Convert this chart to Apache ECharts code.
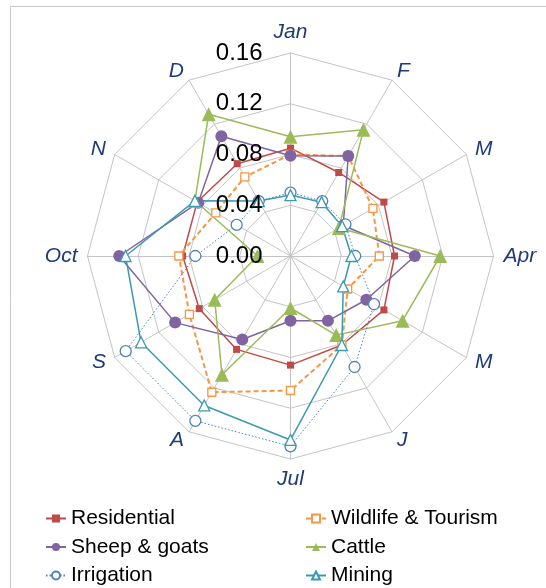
<!DOCTYPE html>
<html>
<head>
<meta charset="utf-8">
<script src="https://cdn.jsdelivr.net/npm/echarts@6/dist/echarts.min.js"></script>
<style>
  html, body { margin: 0; padding: 0; background: #fff; }
  #chart { width: 546px; height: 588px; }
</style>
</head>
<body>
<div id="chart"></div>
<script>
// Month spokes, listed clockwise from the top
const months = ['Jan', 'F', 'M', 'Apr', 'M', 'J', 'Jul', 'A', 'S', 'Oct', 'N', 'D'];
const tickValues = [0, 0.04, 0.08, 0.12, 0.16];

// Monthly share of water demand for each user group
const residential = [0.085, 0.076, 0.085, 0.082, 0.085, 0.081, 0.086, 0.085, 0.083, 0.085, 0.085, 0.084];
const wildlife    = [0.080, 0.091, 0.075, 0.070, 0.052, 0.081, 0.106, 0.124, 0.092, 0.088, 0.068, 0.072];
const sheepGoats  = [0.079, 0.091, 0.048, 0.098, 0.069, 0.059, 0.051, 0.076, 0.105, 0.135, 0.084, 0.109];
const cattle      = [0.094, 0.115, 0.044, 0.118, 0.102, 0.072, 0.041, 0.108, 0.069, 0.026, 0.087, 0.129];
const irrigation  = [0.050, 0.050, 0.050, 0.051, 0.076, 0.101, 0.150, 0.150, 0.150, 0.075, 0.049, 0.050];
const mining      = [0.048, 0.049, 0.047, 0.048, 0.048, 0.081, 0.145, 0.136, 0.136, 0.130, 0.087, 0.050];

const AXIS_MIN = tickValues[0];
const AXIS_MAX = tickValues[tickValues.length - 1];
const AXIS_STEP = tickValues[1] - tickValues[0];
const CENTER = [290.5, 256];
const RADIUS = 203;

// ECharts lays radar indicators out counter-clockwise, so keep the first
// month at the top and reverse the rest to read clockwise.
const order = [0].concat(months.map((_, i) => i).slice(1).reverse());
const reorder = arr => order.map(i => arr[i]);

const chart = echarts.init(document.getElementById('chart'), null, { renderer: 'canvas' });

const seriesDefs = [
  { name: 'Residential', data: residential, color: '#BE4B48', symbol: 'rect', size: 7, hollow: false, line: 'solid', width: 1.5 },
  { name: 'Wildlife & Tourism', data: wildlife, color: '#F79646', symbol: 'rect', size: 8, hollow: true, line: [5, 3], width: 2 },
  { name: 'Sheep & goats', data: sheepGoats, color: '#8064A2', symbol: 'circle', size: 12, hollow: false, line: 'solid', width: 1.5 },
  { name: 'Cattle', data: cattle, color: '#9BBB59', symbol: 'triangle', size: 14, hollow: false, line: 'solid', width: 1.5 },
  { name: 'Irrigation', data: irrigation, color: '#4F81BD', symbol: 'circle', size: 11, hollow: true, line: [1.5, 2], width: 1 },
  { name: 'Mining', data: mining, color: '#3B9AB2', symbol: 'triangle', size: 11, hollow: true, line: 'solid', width: 1.5 }
];

const styleOf = d => ({
  lineStyle: { color: d.color, width: d.width, type: d.line },
  itemStyle: {
    color: d.hollow ? '#fff' : d.color,
    borderColor: d.color,
    borderWidth: d.hollow ? 1.3 : 0
  }
});

// Line-type legend keys (line with marker) come from empty line series
// that share each group's name and style.
const legendKeys = seriesDefs.map(d => Object.assign({
  type: 'line',
  name: d.name,
  symbol: d.symbol,
  xAxisIndex: 0,
  yAxisIndex: 0,
  data: []
}, styleOf(d)));

const radarSeries = seriesDefs.map(d => Object.assign({
  type: 'radar',
  name: d.name,
  symbol: d.symbol,
  symbolSize: d.size,
  data: [{ name: d.name, value: reorder(d.data) }]
}, styleOf(d)));

const legendText = { fontFamily: 'Liberation Sans', fontSize: 21, color: '#000', lineHeight: 20 };
const legendBase = {
  orient: 'vertical',
  top: 508,
  padding: 0,
  itemGap: 7.5,
  itemWidth: 20,
  itemHeight: 10,
  textStyle: legendText
};

chart.setOption({
  animation: false,
  backgroundColor: '#fff',
  graphic: [{
    type: 'rect',
    shape: { x: 10.5, y: 6.5, width: 700, height: 700 },
    style: { fill: 'none', stroke: '#C8C8C8', lineWidth: 1 },
    silent: true
  }],
  grid: { show: false, left: 0, top: 0, width: 1, height: 1 },
  xAxis: { type: 'category', show: false },
  yAxis: { type: 'value', show: false },
  radar: {
    center: CENTER,
    radius: RADIUS,
    startAngle: 90,
    splitNumber: tickValues.length - 1,
    shape: 'polygon',
    indicator: reorder(months).map(m => ({ name: m, min: AXIS_MIN, max: AXIS_MAX })),
    axisName: {
      color: '#1F3A78',
      fontFamily: 'Liberation Sans',
      fontStyle: 'italic',
      fontSize: 21
    },
    nameGap: 10,
    splitArea: { show: false },
    splitLine: { lineStyle: { color: '#C4C4C4', width: 1 } },
    axisLine: { lineStyle: { color: '#C4C4C4', width: 1 } }
  },
  polar: { center: CENTER, radius: RADIUS, z: 10 },
  angleAxis: { type: 'value', show: false, startAngle: 90 },
  radiusAxis: {
    type: 'value',
    min: AXIS_MIN,
    max: AXIS_MAX,
    interval: AXIS_STEP,
    z: 10,
    axisLine: { show: false },
    axisTick: { show: false },
    splitLine: { show: false },
    axisLabel: {
      fontFamily: 'Liberation Sans',
      fontSize: 24,
      color: '#000',
      margin: 28,
      formatter: v => v.toFixed(2)
    }
  },
  legend: [
    Object.assign({ left: 45, data: ['Residential', 'Sheep & goats', 'Irrigation'] }, legendBase),
    Object.assign({ left: 305, data: ['Wildlife & Tourism', 'Cattle', 'Mining'] }, legendBase)
  ],
  series: legendKeys.concat(radarSeries)
});
</script>
</body>
</html>
